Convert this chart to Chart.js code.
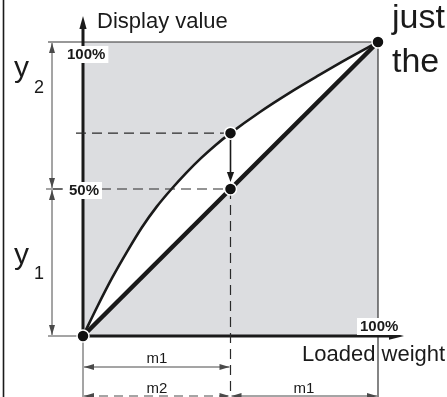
<!DOCTYPE html>
<html>
<head>
<meta charset="utf-8">
<script src="https://cdn.jsdelivr.net/npm/chart.js@4.4.1/dist/chart.umd.min.js"></script>
<style>
  html, body { margin: 0; padding: 0; background: #fff; }
  #wrap { width: 447px; height: 397px; }
</style>
</head>
<body>
<div id="wrap"><canvas id="chart" width="447" height="397"></canvas></div>
<script>
// ============================================================
// LINEARITY DIAGRAM — Display value vs. Loaded weight
// ============================================================

// ── Data (percent of full scale) ──────────────────────────
// Ideal (linear) characteristic
const linearWeight  = [0, 50, 100];
const linearDisplay = [0, 50, 100];

// Non-linear characteristic
const curveWeight  = [0, 5, 10, 15, 20, 25, 30, 35, 40, 45, 50, 60, 70, 80, 90, 100];
const curveDisplay = [0, 10.3, 20, 28.8, 37, 44, 50, 55.5, 60.5, 65, 69, 76.2, 82.7, 88.7, 94.5, 100];

// Highlighted points: origin, curve @ 50%, line @ 50%, full scale
const markerWeight  = [0, 50, 50, 100];
const markerDisplay = [0, 69, 50, 100];

// Tick labels
const yTickValues = [100, 50];
const yTickLabels = ['100%', '50%'];
const xTickValues = [100];
const xTickLabels = ['100%'];

// ── Style helpers ─────────────────────────────────────────
const FONT  = "'Liberation Sans', Arial, Helvetica, sans-serif";
const INK   = '#1a1a1a';
const DIM   = '#4a4a4a';
const GREY  = '#dcdde0';

const toPoints = (xs, ys) => xs.map((x, i) => ({ x: x, y: ys[i] }));

function arrowHead(ctx, x, y, angle, len, half) {
  ctx.save();
  ctx.translate(x, y);
  ctx.rotate(angle);
  ctx.beginPath();
  ctx.moveTo(0, 0);
  ctx.lineTo(-len, -half);
  ctx.lineTo(-len, half);
  ctx.closePath();
  ctx.fill();
  ctx.restore();
}

function line(ctx, x1, y1, x2, y2) {
  ctx.beginPath();
  ctx.moveTo(x1, y1);
  ctx.lineTo(x2, y2);
  ctx.stroke();
}

// dimension line with arrows on both ends
function dimLine(ctx, x1, y1, x2, y2, dashed) {
  ctx.save();
  ctx.strokeStyle = DIM;
  ctx.fillStyle = DIM;
  ctx.lineWidth = 1;
  if (dashed) ctx.setLineDash([9, 6]);
  line(ctx, x1, y1, x2, y2);
  ctx.setLineDash([]);
  const a = Math.atan2(y2 - y1, x2 - x1);
  arrowHead(ctx, x2, y2, a, 10, 3);
  arrowHead(ctx, x1, y1, a + Math.PI, 10, 3);
  ctx.restore();
}

function boxedLabel(ctx, text, x, y) {
  ctx.save();
  ctx.font = 'bold 15px ' + FONT;
  ctx.textBaseline = 'alphabetic';
  const w = ctx.measureText(text).width;
  ctx.fillStyle = '#fff';
  ctx.fillRect(x - 3, y - 13, w + 6, 17);
  ctx.fillStyle = INK;
  ctx.fillText(text, x, y);
  ctx.restore();
}

function text(ctx, str, x, y, size, align) {
  ctx.font = size + 'px ' + FONT;
  ctx.textAlign = align || 'left';
  ctx.textBaseline = 'alphabetic';
  ctx.fillText(str, x, y);
}

// ── Diagram plugin ────────────────────────────────────────
const MARKER_INDEX = 2;

const diagramPlugin = {
  id: 'diagram',

  // grey plot field
  beforeDraw(chart) {
    const { ctx, chartArea: a } = chart;
    ctx.save();
    ctx.fillStyle = GREY;
    ctx.fillRect(a.left, a.top, a.right - a.left, a.bottom - a.top);
    ctx.restore();
  },

  // frame, axes and dimension lines (under the curves)
  beforeDatasetsDraw(chart) {
    const { ctx, chartArea: a } = chart;
    const xs = chart.scales.x, ys = chart.scales.y;
    const yMid = ys.getPixelForValue(markerDisplay[2]);
    const xMid = xs.getPixelForValue(markerWeight[2]);
    const dimX = a.left - 31;
    const H = chart.height;

    ctx.save();
    // page frame on the left
    ctx.strokeStyle = INK;
    ctx.lineWidth = 1.6;
    line(ctx, 3.5, 0, 3.5, H);

    // top and right border of the field
    ctx.strokeStyle = '#333';
    ctx.lineWidth = 1.2;
    line(ctx, dimX - 4, a.top, a.right, a.top);
    line(ctx, a.right, a.top, a.right, H);

    // extension lines
    ctx.strokeStyle = DIM;
    ctx.lineWidth = 1;
    line(ctx, dimX - 4, a.bottom, a.left, a.bottom);
    line(ctx, dimX - 6, yMid, dimX + 10, yMid);
    line(ctx, a.left, a.bottom, a.left, H);
    ctx.restore();

    // vertical dimensions y2 / y1
    dimLine(ctx, dimX, a.top + 1, dimX, yMid - 1, false);
    dimLine(ctx, dimX, yMid + 1, dimX, a.bottom - 1, false);

    // horizontal dimensions m1 / m2 / m1
    dimLine(ctx, a.left + 1, 367, xMid - 1, 367, false);
    dimLine(ctx, a.left + 1, 396, xMid - 1, 396, true);
    dimLine(ctx, xMid + 1, 396, a.right - 1, 396, false);

    // axes with arrows
    ctx.save();
    ctx.strokeStyle = INK;
    ctx.fillStyle = INK;
    ctx.lineWidth = 3;
    line(ctx, a.left, a.bottom, a.left, 24);
    arrowHead(ctx, a.left, 16, -Math.PI / 2, 13, 3.6);
    line(ctx, a.left, a.bottom, 392, a.bottom);
    arrowHead(ctx, 404, a.bottom, 0, 15, 3.8);
    ctx.restore();
  },

  // dashed guides go right before the markers
  beforeDatasetDraw(chart, args) {
    if (args.index !== MARKER_INDEX) return;
    const { ctx, chartArea: a } = chart;
    const xs = chart.scales.x, ys = chart.scales.y;
    const xMid = xs.getPixelForValue(markerWeight[1]);
    const yHi  = ys.getPixelForValue(markerDisplay[1]);
    const yMid = ys.getPixelForValue(markerDisplay[2]);

    ctx.save();
    ctx.strokeStyle = '#2a2a2a';
    ctx.lineWidth = 1.2;
    ctx.setLineDash([10, 6]);
    line(ctx, a.left - 7, yHi, xMid, yHi);
    line(ctx, a.left - 30, yMid, xMid, yMid);
    line(ctx, xMid, yMid, xMid, chart.height);
    ctx.setLineDash([]);

    // shift arrow from curve to line
    ctx.strokeStyle = INK;
    ctx.fillStyle = INK;
    ctx.lineWidth = 1.6;
    line(ctx, xMid, yHi + 6, xMid, yMid - 14);
    arrowHead(ctx, xMid, yMid - 7, Math.PI / 2, 10, 3.6);
    ctx.restore();
  },

  // labels on top
  afterDatasetsDraw(chart) {
    const { ctx } = chart;
    const xs = chart.scales.x, ys = chart.scales.y;

    boxedLabel(ctx, yTickLabels[0], 67, ys.getPixelForValue(yTickValues[0]) + 17);
    boxedLabel(ctx, yTickLabels[1], 69, ys.getPixelForValue(yTickValues[1]) + 6);
    boxedLabel(ctx, xTickLabels[0], xs.getPixelForValue(xTickValues[0]) - 18, 331);

    ctx.save();
    ctx.fillStyle = INK;
    text(ctx, 'Display value', 97, 28, 22);
    text(ctx, 'Loaded weight', 302, 361, 22);
    text(ctx, 'just', 392, 28, 34);
    text(ctx, 'the', 392, 72, 34);

    // y2 / y1
    text(ctx, 'y', 14, 77, 30);
    text(ctx, '2', 34, 93, 18);
    text(ctx, 'y', 14, 264, 30);
    text(ctx, '1', 34, 279, 18);

    // m labels
    text(ctx, 'm1', 157, 363, 15, 'center');
    text(ctx, 'm2', 157, 393, 15, 'center');
    text(ctx, 'm1', 304, 393, 15, 'center');
    ctx.restore();
  }
};

// ── Chart ─────────────────────────────────────────────────
new Chart(document.getElementById('chart'), {
  type: 'scatter',
  data: {
    datasets: [
      {
        label: 'Linear',
        data: toPoints(linearWeight, linearDisplay),
        showLine: true,
        borderColor: INK,
        borderWidth: 4.5,
        pointRadius: 0,
        clip: false,
        order: 2,
      },
      {
        label: 'Non-linear',
        data: toPoints(curveWeight, curveDisplay),
        showLine: true,
        cubicInterpolationMode: 'monotone',
        borderColor: INK,
        borderWidth: 2.6,
        pointRadius: 0,
        fill: { target: 0 },
        backgroundColor: '#ffffff',
        clip: false,
        order: 1,
      },
      {
        label: 'Points',
        data: toPoints(markerWeight, markerDisplay),
        showLine: false,
        pointRadius: 6,
        pointBackgroundColor: '#111',
        pointBorderColor: '#fff',
        pointBorderWidth: 1.5,
        clip: false,
        order: 0,
      },
    ]
  },
  options: {
    responsive: false,
    animation: false,
    events: [],
    layout: { padding: { left: 83, right: 69, top: 42, bottom: 61 } },
    scales: {
      x: { type: 'linear', min: 0, max: 100, display: false },
      y: { type: 'linear', min: 0, max: 100, display: false },
    },
    plugins: {
      legend: { display: false },
      tooltip: { enabled: false },
      filler: { drawTime: 'beforeDatasetsDraw' },
    }
  },
  plugins: [diagramPlugin]
});
</script>
</body>
</html>
